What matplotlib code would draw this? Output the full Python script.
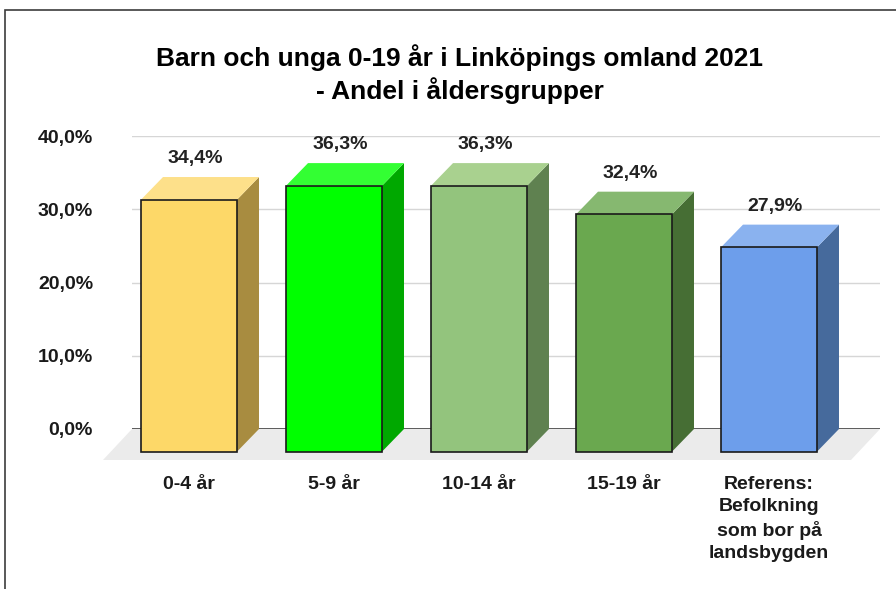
import matplotlib
matplotlib.use("Agg")
import matplotlib.pyplot as plt
from matplotlib.patches import Polygon, Rectangle

plt.rcParams['font.family'] = ['Liberation Sans', 'DejaVu Sans']

# data
categories = ['0-4 år', '5-9 år', '10-14 år', '15-19 år',
              'Referens:\nBefolkning\nsom bor på\nlandsbygden']
values = [34.4, 36.3, 36.3, 32.4, 27.9]
value_labels = ['34,4%', '36,3%', '36,3%', '32,4%', '27,9%']
yticks = [0, 10, 20, 30, 40]
ytick_labels = ['0,0%', '10,0%', '20,0%', '30,0%', '40,0%']

# front / top / side colours for each bar
front_colors = ['#fdd868', '#00ff00', '#93c47d', '#6aa84f', '#6d9eeb']
top_colors = ['#fde08a', '#33ff33', '#a9d18f', '#86b870', '#8ab2ef']
side_colors = ['#a88c40', '#00a800', '#5f8150', '#466e34', '#466a9c']

W, H = 896, 589
fig = plt.figure(figsize=(W / 100, H / 100), dpi=100)
fig.patch.set_facecolor('white')

# outer border
fig.patches.append(Rectangle((5 / W, -0.1), 2, 1 - 10 / H + 0.1,
                             transform=fig.transFigure, fill=False,
                             edgecolor='#3c3c3c', lw=1.2))

# axes placed so that the back wall spans the gridline area
ax = fig.add_axes([132 / W, (H - 429) / H, (880 - 132) / W, (429 - 136) / H])
x_left, x_right = -0.5448, 4.6138
ax.set_xlim(x_left, x_right)
ax.set_ylim(0, 40)
for s in ax.spines.values():
    s.set_visible(False)

# 3d depth offsets (data units)
dx = 0.152
dy = 3.1
w = 0.662

# floor
fdx, fdy = 0.2, 4.23
ax.add_patch(Polygon([(x_left, 0), (x_right, 0), (x_right - fdx, -fdy),
                      (x_left - fdx, -fdy)], closed=True,
                     facecolor='#ebebeb', edgecolor='none', clip_on=False,
                     zorder=0))

# gridlines and zero line
for t in yticks[1:]:
    ax.axhline(t, color='#d6d6d6', lw=1, zorder=1)
ax.axhline(0, color='#404040', lw=1.2, zorder=1)

for i, v in enumerate(values):
    fl = i - dx - w / 2
    fr = i - dx + w / 2
    # side face
    ax.add_patch(Polygon([(fr, -dy), (fr + dx, 0), (fr + dx, v), (fr, v - dy)],
                         closed=True, facecolor=side_colors[i],
                         edgecolor='none', clip_on=False, zorder=3))
    # top face
    ax.add_patch(Polygon([(fl, v - dy), (fr, v - dy), (fr + dx, v), (fl + dx, v)],
                         closed=True, facecolor=top_colors[i],
                         edgecolor='none', clip_on=False, zorder=3))
    # front face
    ax.add_patch(Rectangle((fl, -dy), w, v, facecolor=front_colors[i],
                           edgecolor='#1a1a1a', lw=1.2, clip_on=False,
                           zorder=4))
    ax.text(i - 0.11, v + 2.5, value_labels[i], ha='center', va='center',
            fontsize=14, fontweight='bold', color='#222222', zorder=5)

ax.set_yticks(yticks)
ax.set_yticklabels(ytick_labels, fontsize=14, fontweight='bold',
                   color='#1a1a1a')
ax.tick_params(axis='y', length=0, pad=28)

ax.set_xticks([i - dx for i in range(len(categories))])
ax.set_xticklabels(categories, fontsize=14, fontweight='bold',
                   color='#1a1a1a', linespacing=1.38)
ax.tick_params(axis='x', length=0, pad=34)

fig.text(460 / W, 1 - 74 / H,
         'Barn och unga 0-19 år i Linköpings omland 2021\n- Andel i åldersgrupper',
         ha='center', va='center', fontsize=19, fontweight='bold',
         color='black', linespacing=1.3)

fig.savefig('out.png', dpi=100)
